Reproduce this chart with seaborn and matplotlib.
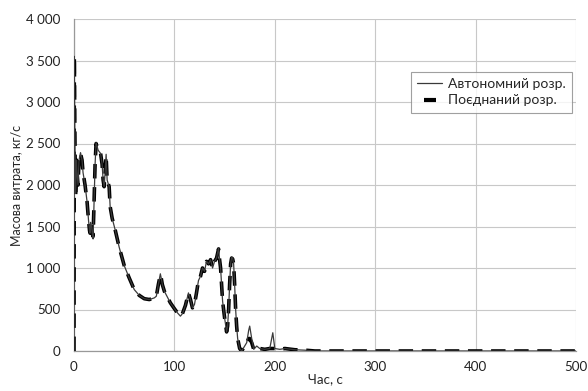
import numpy as np
import pandas as pd
import matplotlib
matplotlib.use("Agg")
import matplotlib.pyplot as plt
import seaborn as sns
from matplotlib.ticker import FuncFormatter, MultipleLocator
from matplotlib.lines import Line2D

# time, s
time_s = [0, 0.3, 0.8, 1.5, 2, 2.5, 3, 4, 5, 6.5, 8, 9, 11, 13, 14.5, 15.5, 16, 16.5,
          17.5, 18.5, 19, 20, 21, 22, 24, 26.5, 28, 29, 30, 31, 32, 33, 35, 36, 38, 41,
          45, 50, 55, 60, 65, 70, 75, 80, 82, 84, 86, 87, 88, 90, 93, 96, 100, 103, 106,
          108, 111, 113, 114, 116, 118, 120, 122, 124, 126, 128, 130, 132, 134, 136, 138,
          140, 142, 144, 145, 146, 147, 148, 150, 152, 153, 154, 155, 156, 157, 158, 159,
          160, 161, 162, 163, 165, 167, 170, 172, 174, 175, 177, 179, 182, 185, 190, 195,
          198, 200, 205, 210, 220, 230, 240, 500]

# Автономний розрахунок, kg/s
flow_auto = [0, 3550, 2700, 1900, 2050, 2300, 2150, 2000, 2300, 2390, 2300, 2150, 2000,
             1800, 1570, 1450, 1420, 1550, 1500, 1380, 1350, 1800, 2250, 2510, 2420, 2380,
             2250, 2060, 1980, 2150, 2370, 2060, 1980, 1740, 1600, 1460,
             1250, 1030, 880, 740, 670, 630, 620, 640, 660, 800, 930, 870, 800, 720, 650,
             580, 510, 460, 420, 450, 550, 650, 700, 620, 520, 560, 700, 850, 900, 1000,
             960, 1080, 1050, 1100, 1000, 1080, 1120, 1240, 1100, 1000, 800, 600, 400, 230,
             300, 500, 800, 1050, 1130, 1120, 1050, 800, 500, 300, 150, 30, 0, 60, 100, 250,
             300, 150, 20, 60, 30, 20, 30, 220, 30, 20, 30, 15, 10, 0, 0]

# Поєднаний розрахунок, kg/s
flow_comb = [0, 3550, 2700, 1850, 2000, 2300, 2150, 2000, 2300, 2380, 2300, 2150, 2000,
             1800, 1570, 1450, 1420, 1550, 1500, 1400, 1380, 1800, 2250, 2500, 2420, 2380,
             2250, 2060, 1980, 2150, 2350, 2060, 1980, 1740, 1600, 1460,
             1250, 1030, 880, 740, 670, 630, 620, 640, 660, 800, 920, 870, 800, 720, 650,
             580, 510, 460, 420, 450, 550, 650, 700, 620, 520, 560, 700, 850, 900, 1000,
             960, 1080, 1050, 1100, 1000, 1080, 1120, 1230, 1100, 1000, 800, 600, 400, 230,
             300, 500, 800, 1050, 1120, 1110, 1050, 800, 500, 300, 150, 30, 0, 60, 100, 150,
             150, 100, 20, 50, 30, 20, 30, 30, 30, 20, 30, 15, 10, 0, 0]

label_auto = "Автономний розр."
label_comb = "Поєднаний розр."

sns.set_theme(style="white")
plt.rcParams["font.family"] = ["Lato", "DejaVu Sans"]

W, H = 588, 391
fig = plt.figure(figsize=(W / 100, H / 100), dpi=100)
ax = fig.add_axes([74 / W, (H - 351) / H, (576 - 74) / W, (351 - 19) / H])

df_a = pd.DataFrame({"t": time_s, "m": flow_auto})
df_c = pd.DataFrame({"t": time_s, "m": flow_comb})

sns.lineplot(data=df_a, x="t", y="m", ax=ax, color="#3a3a3a", lw=0.9,
             sort=False, estimator=None, zorder=4)
sns.lineplot(data=df_c, x="t", y="m", ax=ax, color="black", lw=2.6,
             sort=False, estimator=None, zorder=3, linestyle=(0, (4, 2.4)))

ax.set_xlim(0, 500)
ax.set_ylim(0, 4000)
ax.xaxis.set_major_locator(MultipleLocator(100))
ax.yaxis.set_major_locator(MultipleLocator(500))
ax.yaxis.set_major_formatter(FuncFormatter(lambda v, p: f"{int(v):,}".replace(",", " ")))
ax.grid(True, color="#c8c8c8", lw=0.8)
ax.set_axisbelow(True)
for s in ["top", "right"]:
    ax.spines[s].set_visible(False)
for s in ["left", "bottom"]:
    ax.spines[s].set_color("#999999")
    ax.spines[s].set_linewidth(0.9)
ax.tick_params(axis="both", labelsize=9.6, colors="#222222", length=0, pad=10)
ax.tick_params(axis="x", pad=7)
ax.set_xlabel("Час, с", fontsize=9.6, labelpad=0)
ax.set_ylabel("Масова витрата, кг/с", fontsize=9, labelpad=2)

handles = [Line2D([0], [0], color="#3a3a3a", lw=0.9),
           Line2D([0], [0], color="black", lw=0, marker="_", markersize=9, mew=3)]
leg = ax.legend(handles, [label_auto, label_comb], loc="upper right",
                bbox_to_anchor=((572 - 74) / (576 - 74), (351 - 72) / (351 - 19)),
                fontsize=10, frameon=True, fancybox=False, handlelength=1.8,
                borderpad=0.45, labelspacing=0.3, handletextpad=0.4,
                borderaxespad=0)
leg.get_frame().set_edgecolor("#888888")
leg.get_frame().set_linewidth(0.8)

fig.savefig("out.png", dpi=100)
